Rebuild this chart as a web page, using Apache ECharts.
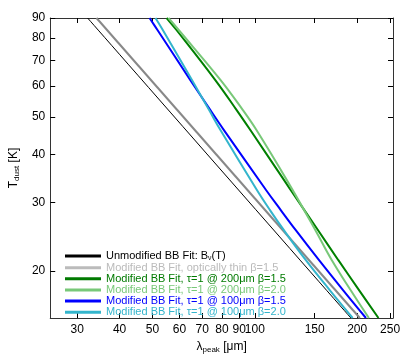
<!DOCTYPE html>
<html style="height: 100%">
  <head>
    <meta charset="utf-8" />
  </head>
  <body style="height: 100%; margin: 0; background: #fff">
    <div id="container" style="width: 415px; height: 363px"></div>

    <script
      type="text/javascript"
      src="https://cdn.jsdelivr.net/npm/echarts@6/dist/echarts.min.js"
    ></script>

    <script type="text/javascript">
      var dom = document.getElementById("container");
      var myChart = echarts.init(dom, null, { renderer: "canvas" });

      // tick labels
      var lambdaTicks = [30, 40, 50, 60, 70, 80, 90, 100, 150, 200, 250];
      var tempTicks = [20, 30, 40, 50, 60, 70, 80, 90];

      // T_dust [K] and lambda_peak [um]
      var blackT = [90, 15.1];
      var blackL = [32.2, 191.7];
      var grayT = [90, 15.1];
      var grayL = [34.2, 203.7];
      var dkgreenT = [90, 83.8, 62.2, 52.1, 46.2, 34.3, 32.3, 25.5, 21.3, 17.8, 15.1];
      var dkgreenL = [55.0, 58.8, 76.5, 88.3, 97.0, 121.9, 127.6, 153.3, 176.1, 202.8, 231.1];
      var ltgreenT = [90, 83.8, 62.2, 52.1, 46.2, 34.3, 25.5, 21.3, 16.85, 15.1];
      var ltgreenL = [55.7, 59.7, 79.3, 92.1, 101.1, 124.2, 150.6, 168.5, 199.4, 216.6];
      var blueT = [90, 83.8, 62.2, 52.1, 46.2, 32.3, 28.7, 25.5, 21.3, 17.8, 15.1];
      var blueL = [49.0, 51.7, 64.6, 73.9, 81.1, 108.0, 119.2, 131.8, 154.5, 182.0, 212.3];
      var cyanT = [90, 83.8, 62.2, 52.1, 46.2, 32.3, 28.7, 25.5, 21.3, 17.8, 15.1];
      var cyanL = [51.0, 53.6, 65.3, 73.3, 79.2, 101.5, 110.8, 121.6, 141.3, 166.3, 194.0];

      var names = [
        "Unmodified BB Fit: B_nu(T)",
        "Modified BB Fit, optically thin \u03b2=1.5",
        "Modified BB Fit, \u03c4=1 @ 200\u03bcm \u03b2=1.5",
        "Modified BB Fit, \u03c4=1 @ 200\u03bcm \u03b2=2.0",
        "Modified BB Fit, \u03c4=1 @ 100\u03bcm \u03b2=1.5",
        "Modified BB Fit, \u03c4=1 @ 100\u03bcm \u03b2=2.0",
      ];
      var lineColors = ["#000000", "#888888", "#008000", "#78c878", "#0000ff", "#33b5cc"];
      var textColors = ["#000000", "#bbbbbb", "#007a00", "#78c878", "#0000ff", "#33b5cc"];
      var widths = [1, 2, 2, 2, 2, 2];

      // plotted on log10 axes
      function toLog(L, T) {
        return L.map(function (l, i) {
          return [Math.log10(l), Math.log10(T[i])];
        });
      }
      var curves = [
        toLog(blackL, blackT),
        toLog(grayL, grayT),
        toLog(dkgreenL, dkgreenT),
        toLog(ltgreenL, ltgreenT),
        toLog(blueL, blueT),
        toLog(cyanL, cyanT),
      ];

      var font = "Liberation Sans";
      var xTickVals = lambdaTicks.map(Math.log10);
      var yTickVals = tempTicks.map(Math.log10);
      var xMin = Math.log10(25), xMax = Math.log10(255);
      var yMin = Math.log10(15.1), yMax = Math.log10(90);

      function fmt(v) {
        return String(Math.round(Math.pow(10, v)));
      }

      var axisLine = { show: true, lineStyle: { color: "#333", width: 1 } };

      var option = {
        animation: false,
        backgroundColor: "#fff",
        grid: { left: 50, right: 22, top: 18, bottom: 45 },
        legend: {
          left: 65,
          top: 250,
          orient: "vertical",
          icon: "rect",
          itemWidth: 36,
          itemHeight: 3,
          itemGap: 0.15,
          padding: 0,
          selectedMode: false,
          textStyle: {
            fontFamily: font,
            fontSize: 11,
            lineHeight: 9,
            rich: {
              sub: { fontSize: 7, fontFamily: font, lineHeight: 9, padding: [5, 0, 0, 0] },
            },
          },
          formatter: function (n) {
            if (n === names[0]) return "Unmodified BB Fit: B{sub|\u03bd}(T)";
            return n;
          },
          data: names.map(function (n, i) {
            return {
              name: n,
              itemStyle: { color: textColors[i] },
              textStyle: { color: textColors[i] },
            };
          }),
        },
        xAxis: [
          {
            type: "value",
            min: xMin,
            max: xMax,
            name: "\u03bb{sub|peak} [\u03bcm]",
            nameLocation: "middle",
            nameGap: 22,
            nameTextStyle: {
              fontFamily: font,
              fontSize: 12,
              color: "#000",
              rich: {
                sub: { fontSize: 8, fontFamily: font, color: "#000", padding: [6, 0, 0, 0] },
              },
            },
            axisLine: axisLine,
            axisTick: { show: true, inside: true, length: 5, customValues: xTickVals, lineStyle: { color: "#000" } },
            axisLabel: {
              customValues: xTickVals,
              formatter: fmt,
              fontFamily: font,
              fontSize: 12,
              color: "#000",
              margin: 6,
            },
            splitLine: { show: false },
          },
          {
            type: "value",
            position: "top",
            min: xMin,
            max: xMax,
            axisLine: axisLine,
            axisTick: { show: true, inside: true, length: 5, customValues: xTickVals, lineStyle: { color: "#000" } },
            axisLabel: { show: false },
            splitLine: { show: false },
          },
        ],
        yAxis: [
          {
            type: "value",
            min: yMin,
            max: yMax,
            name: "T{sub|dust} [K]",
            nameLocation: "middle",
            nameGap: 26,
            nameTextStyle: {
              fontFamily: font,
              fontSize: 12,
              color: "#000",
              rich: {
                sub: { fontSize: 8, fontFamily: font, color: "#000", padding: [6, 0, 0, 0] },
              },
            },
            axisLine: axisLine,
            axisTick: { show: true, inside: true, length: 5, customValues: yTickVals, lineStyle: { color: "#000" } },
            axisLabel: {
              customValues: yTickVals,
              formatter: fmt,
              fontFamily: font,
              fontSize: 12,
              color: "#000",
              margin: 5,
            },
            splitLine: { show: false },
          },
          {
            type: "value",
            position: "right",
            min: yMin,
            max: yMax,
            axisLine: axisLine,
            axisTick: { show: true, inside: true, length: 5, customValues: yTickVals, lineStyle: { color: "#000" } },
            axisLabel: { show: false },
            splitLine: { show: false },
          },
        ],
        series: curves.map(function (d, i) {
          return {
            name: names[i],
            type: "line",
            data: d,
            color: lineColors[i],
            showSymbol: false,
            symbol: "none",
            smooth: 0.4,
            clip: true,
            lineStyle: { color: lineColors[i], width: widths[i] },
          };
        }),
      };

      if (option && typeof option === "object") {
        myChart.setOption(option);
      }
    </script>
  </body>
</html>
